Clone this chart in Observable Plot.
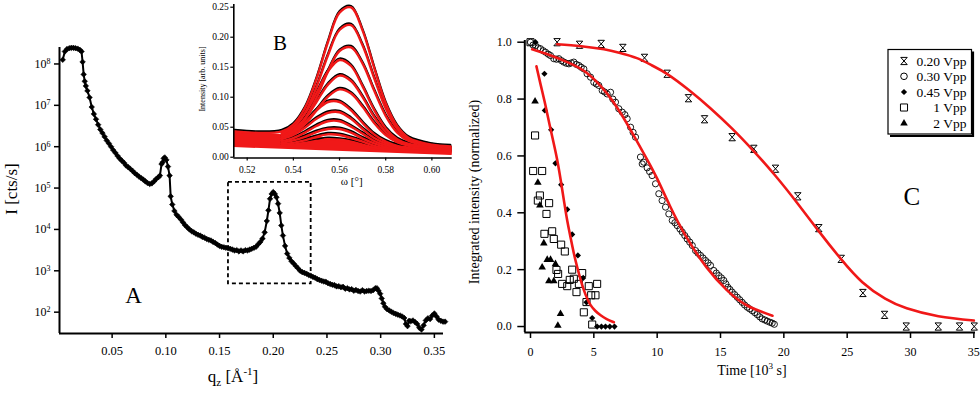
<!DOCTYPE html>
<html><head><meta charset="utf-8">
<script src="https://cdn.jsdelivr.net/npm/d3@7"></script>
<script src="https://cdn.jsdelivr.net/npm/@observablehq/plot@0.6"></script>
<style>
body{margin:0;background:#fff}
#wrap{position:relative;width:980px;height:394px;overflow:hidden;background:#fff}
#wrap svg{position:absolute}
</style></head><body><div id="wrap"></div>
<script>
const FONT = '"Liberation Serif", "Times New Roman", serif';
const RED = "#f01818";

// ---------- Panel A: reflectivity curve ----------
const qA = [0.004,0.006,0.008,0.010,0.012,0.014,0.016,0.018,0.020,0.0215,0.0225,0.0235,0.0245,0.0255,0.027,0.029,0.031,0.033,0.035,0.037,0.039,0.041,0.043,0.045,0.047,0.049,0.051,0.053,0.055,0.057,0.059,0.061,0.063,0.065,0.067,0.069,0.071,0.073,0.075,0.077,0.079,0.081,0.083,0.085,0.087,0.089,0.091,0.093,0.0945,0.096,0.097,0.098,0.099,0.1005,0.102,0.1035,0.1045,0.106,0.108,0.110,0.112,0.114,0.116,0.118,0.120,0.122,0.124,0.126,0.128,0.130,0.132,0.134,0.136,0.138,0.140,0.142,0.144,0.146,0.148,0.150,0.152,0.154,0.156,0.158,0.160,0.162,0.164,0.166,0.168,0.170,0.172,0.174,0.176,0.178,0.180,0.182,0.184,0.186,0.188,0.190,0.192,0.194,0.1955,0.197,0.1985,0.200,0.2015,0.203,0.2045,0.206,0.2075,0.209,0.211,0.213,0.215,0.217,0.219,0.221,0.223,0.225,0.227,0.229,0.231,0.233,0.235,0.237,0.239,0.241,0.243,0.245,0.247,0.249,0.251,0.253,0.255,0.257,0.259,0.261,0.263,0.265,0.267,0.269,0.271,0.273,0.275,0.277,0.279,0.281,0.283,0.285,0.287,0.289,0.291,0.293,0.295,0.2965,0.298,0.2995,0.301,0.3025,0.304,0.306,0.308,0.310,0.312,0.314,0.316,0.318,0.320,0.322,0.3235,0.325,0.3265,0.328,0.330,0.332,0.334,0.336,0.338,0.340,0.342,0.344,0.346,0.348,0.350,0.352,0.354,0.356,0.358,0.360];
const IA = [1.26e8,2.0e8,2.29e8,2.4e8,2.45e8,2.45e8,2.4e8,2.34e8,2.19e8,2.0e8,1.12e8,5.6e7,3.8e7,2.95e7,2.24e7,1.55e7,9.1e6,6.2e6,4.6e6,3.4e6,2.6e6,2.14e6,1.74e6,1.41e6,1.2e6,1.0e6,8.3e5,7.1e5,6.0e5,5.2e5,4.6e5,4.1e5,3.5e5,3.2e5,2.9e5,2.6e5,2.3e5,2.1e5,1.9e5,1.74e5,1.6e5,1.45e5,1.32e5,1.26e5,1.3e5,1.45e5,1.66e5,1.82e5,2.0e5,3.8e5,4.2e5,5.2e5,5.5e5,4.8e5,3.3e5,2.0e5,6.3e4,4.0e4,2.8e4,2.25e4,2.0e4,1.74e4,1.48e4,1.26e4,1.12e4,1.0e4,9.1e3,8.5e3,7.9e3,7.4e3,7.1e3,6.6e3,6.3e3,5.9e3,5.6e3,5.4e3,5.0e3,4.7e3,4.3e3,4.0e3,3.8e3,3.7e3,3.6e3,3.5e3,3.4e3,3.25e3,3.1e3,3.15e3,2.95e3,3.1e3,2.95e3,3.15e3,3.1e3,3.25e3,3.4e3,3.6e3,3.8e3,4.4e3,5.0e3,6.0e3,8.5e3,1.6e4,2.9e4,5.5e4,7.2e4,8.0e4,7.2e4,6.0e4,4.2e4,2.5e4,1.25e4,7.1e3,4.0e3,2.6e3,2.05e3,1.7e3,1.5e3,1.3e3,1.15e3,1.0e3,930,890,850,790,760,710,680,630,600,575,550,540,500,480,460,450,420,425,400,410,370,380,355,360,330,345,325,315,340,315,325,330,325,340,380,380,330,280,215,165,135,118,110,102,95,91,87,83,79,72,52,46,62,60,63,58,52,42,38,48,63,71,68,83,93,79,66,62,59,59];
const qTicksA = [0.05,0.10,0.15,0.20,0.25,0.30,0.35];
const ITicksA = [1e2,1e3,1e4,1e5,1e6,1e7,1e8];
const boxA = {q1: 0.1583, q2: 0.2353, I1: 485, I2: 1.38e5};
const labelA = {q: 0.070, I: 251, text: "A"};

// ---------- Panel B (inset): rocking curves and fits ----------
const omegaB = [0.5145,0.525,0.535,0.54,0.545,0.55,0.555,0.56,0.565,0.57,0.575,0.58,0.585,0.59,0.60,0.608];
const curvesB = [
  [.043,.0406,.0432,.0545,.082,.1306,.192,.241,.2496,.211,.149,.090,.0515,.032,.0207,.018],
  [null,null,.041,.050,.074,.117,.170,.212,.220,.186,.132,.081,.047,.030,.020,.017],
  [null,null,.038,.046,.065,.099,.143,.177,.183,.156,.111,.069,.041,.027,.018,.016],
  [null,null,.039,.050,.073,.107,.143,.162,.152,.118,.079,.048,.030,.022,.017,.015],
  [null,null,.036,.044,.063,.092,.121,.136,.127,.100,.067,.042,.027,.021,.016,.014],
  [null,null,.033,.040,.055,.078,.101,.113,.106,.084,.057,.037,.025,.019,.015,.013],
  [null,null,.033,.042,.058,.078,.092,.092,.078,.057,.038,.026,.019,.016,.014,.012],
  [null,null,.030,.037,.049,.064,.074,.075,.064,.047,.032,.023,.017,.015,.013,.011],
  [null,null,.027,.032,.041,.052,.060,.060,.051,.039,.027,.020,.016,.014,.012,.010],
  [null,null,.024,.028,.034,.042,.047,.047,.041,.031,.023,.017,.014,.012,.010,.009],
  [null,null,.022,.024,.028,.034,.038,.037,.032,.026,.019,.015,.013,.011,.009,.008],
  [null,null,.019,.021,.024,.027,.030,.029,.026,.021,.016,.013,.011,.010,.008,.007]
];
const bandOmegaB = [0.5142, 0.6088];
const bandLoB = [0.016, 0.003];
const bandHiB = [0.043, 0.018];
const omegaTicksB = [0.52,0.54,0.56,0.58,0.60];
const intTicksB = [0,0.05,0.10,0.15,0.20,0.25];
const labelB = {w: 0.5342, v: 0.1895, text: "B"};

// ---------- Panel C: integrated intensity vs time ----------
const t020 = [2.1,3.87,5.58,7.29,9.0,10.79,12.47,13.74,15.92,17.63,19.34,21.1,22.76,24.53,26.24,27.95,29.66,32.19,33.87,35.03];
const y020 = [1.0,.991,.994,.980,.945,.889,.803,.729,.666,.625,.555,.458,.346,.238,.118,.041,0,0,0,0];
const t030 = [0,0.2,0.39,0.6,0.79,1.0,1.18,1.4,1.58,1.84,2.05,2.24,2.45,2.63,2.83,3.03,3.22,3.42,3.62,3.82,4.0,4.21,4.47,4.74,5.0,5.2,5.39,5.66,5.85,6.05,6.32,6.5,6.71,6.97,7.24,7.45,7.63,7.9,8.1,8.29,8.68,8.82,8.94,9.21,9.4,9.6,9.87,10.13,10.39,10.66,10.92,11.19,11.4,11.58,11.8,11.98,12.18,12.37,12.57,12.77,13.03,13.22,13.42,13.62,13.82,14.02,14.21,14.47,14.67,14.87,15.07,15.26,15.42,15.58,15.75,15.92,16.12,16.32,16.52,16.71,16.9,17.11,17.3,17.5,17.7,17.9,18.1,18.29,18.5,18.69,18.9,19.08,19.25];
const y030 = [1.0,.99,.988,.98,.977,.97,.965,.958,.953,.942,.94,.942,.935,.930,.926,.924,.927,.930,.922,.918,.912,.906,.889,.877,.859,.853,.848,.830,.825,.818,.824,.80,.789,.766,.754,.745,.731,.701,.683,.666,.596,.572,.578,.558,.545,.531,.502,.467,.443,.42,.396,.373,.365,.355,.343,.332,.32,.308,.297,.285,.267,.258,.25,.241,.232,.224,.215,.197,.188,.179,.171,.162,.150,.138,.130,.121,.112,.103,.094,.085,.076,.068,.062,.056,.049,.042,.034,.027,.023,.019,.015,.012,.008];
const t045 = [0.39,1.1,1.13,1.63,1.97,2.42,2.9,3.29,3.74,4.16,4.42,4.87,5.26,5.6,5.92,6.26,6.63];
const y045 = [1.0,.889,.760,.692,.574,.499,.412,.324,.250,.171,.085,.030,0,0,0,0,0];
const t1 = [0,0.36,0.21,0.92,0.74,0.58,1.47,1.26,1.1,1.71,1.84,2.42,2.71,2.05,2.18,3.29,3.42,3.10,2.5,2.9,3.82,4.08,3.63,4.6,5.26,4.79,5.13,4.42,4.21,4.87];
const y1 = [1.0,.672,.547,.547,.461,.443,.434,.396,.326,.335,.308,.288,.264,.199,.185,.200,.168,.164,.150,.142,.150,.188,.121,.142,.150,.110,.110,.086,.050,.007];
const t2 = [0.36,0.58,0.74,1.05,0.92,1.32,1.58,1.97,1.45,1.84,2.37,2.16];
const y2 = [.792,.506,.426,.293,.208,.235,.235,.220,.160,.160,.045,.003];
const fit020T = [2.1,4,5.8,7,8.4,9.6,10.8,12.5,14.2,15.9,17.6,19.3,21.1,22.8,24.5,26.2,28,29.7,32.2,35];
const fit020Y = [.993,.986,.975,.963,.944,.918,.888,.832,.768,.697,.618,.532,.432,.333,.238,.156,.098,.064,.036,.021];
const fit030T = [0.13,1.5,3,4.5,6,7.1,8.2,9.2,10,11,12.3,13.9,15.5,17.1,19.1];
const fit030Y = [.975,.955,.928,.89,.822,.752,.668,.588,.52,.425,.315,.208,.128,.074,.038];
const fit045T = [0.47,0.8,1.18,1.5,1.84,2.1,2.37,2.68,2.9,3.16,3.4,3.68,3.95,4.21,4.5,4.74,5.1,5.53,6.0,6.58];
const fit045Y = [.915,.85,.78,.71,.643,.59,.52,.431,.37,.314,.26,.209,.165,.127,.095,.074,.055,.039,.026,.015];
const tTicksC = [0,5,10,15,20,25,30,35];
const yTicksC = [0,0.2,0.4,0.6,0.8,1.0];
const legendNames = ["0.20 Vpp","0.30 Vpp","0.45 Vpp","1 Vpp","2 Vpp"];
const labelC = {t: 30.1, y: 0.455, text: "C"};

// hourglass symbol
const hourglass = {draw(ctx, size){ const r = Math.sqrt(size/Math.PI); const w = r*0.9, h = r;
  ctx.moveTo(-w,-h); ctx.lineTo(w,-h); ctx.lineTo(-w,h); ctx.lineTo(w,h); ctx.closePath(); }};

const wrap = document.getElementById("wrap");
function place(svg, left, top){ svg.style.left = left+"px"; svg.style.top = top+"px"; wrap.appendChild(svg); }
function baseStyle(fs){ return {fontFamily: FONT, fontSize: fs, background: "transparent", overflow: "visible", color: "black"}; }

// ===== Panel A =====
const dataA = qA.map((q,i)=>({q, I: IA[i]}));
const xDomA = [0.001, 0.3585], yDomA = [30.5, 2.5e8];
const svgA = Plot.plot({
  width: 460, height: 394, marginLeft: 59, marginRight: 17, marginTop: 47, marginBottom: 61,
  x: {domain: xDomA}, y: {type: "log", domain: yDomA},
  style: baseStyle("12.5px"),
  marks: [
    Plot.axisX({ticks: qTicksA, tickFormat: d3.format(".2f"), tickSize: 5, tickPadding: 8, strokeWidth: 1.5, label: null}),
    Plot.axisY({ticks: ITicksA, tickFormat: d => String(Math.round(Math.log10(d))), tickSize: 5, tickPadding: 4, strokeWidth: 1.5, fontSize: 12, label: null}),
    Plot.ruleX([xDomA[0]], {strokeWidth: 2}),
    Plot.ruleY([yDomA[0]], {strokeWidth: 2}),
    Plot.rect([boxA], {x1: "q1", x2: "q2", y1: "I1", y2: "I2", fill: "none", stroke: "black", strokeWidth: 1.8, strokeDasharray: "4,3"}),
    Plot.line(dataA, {x: "q", y: "I", stroke: "black", strokeWidth: 2}),
    Plot.dot(dataA, {x: "q", y: "I", symbol: "diamond2", r: 2.5, fill: "black", stroke: "black", strokeWidth: 0.6}),
    Plot.text([labelA], {x: "q", y: "I", text: "text", fontSize: 23})
  ]
});
d3.select(svgA).selectAll('g[aria-label="y-axis tick label"] text').each(function(){
  const t = d3.select(this); const e = t.text(); t.text(null);
  t.append("tspan").text("10"); t.append("tspan").attr("dy","-0.5em").attr("font-size","8px").text(e);
});
{
  const s = d3.select(svgA);
  s.append("text").attr("transform","translate(17,189) rotate(-90)").attr("text-anchor","middle")
    .attr("font-family",FONT).attr("font-size","17px").text("I [cts/s]");
  const t = s.append("text").attr("x",233).attr("y",382).attr("text-anchor","middle").attr("font-family",FONT).attr("font-size","17px");
  t.append("tspan").text("q");
  t.append("tspan").attr("dy","4").attr("font-size","11px").text("z");
  t.append("tspan").attr("dy","-4").text(" [Å");
  t.append("tspan").attr("dy","-7").attr("font-size","11px").text("-1");
  t.append("tspan").attr("dy","7").text("]");
}
place(svgA, 0, 0);

// ===== Panel B (inset) =====
const dataB = [];
curvesB.forEach((arr,k)=>arr.forEach((v,i)=>{ if (v != null) dataB.push({w: omegaB[i], v, k}); }));
const bandB = bandOmegaB.map((w,i)=>({w, lo: bandLoB[i], hi: bandHiB[i]}));
const xDomB = [0.5142, 0.6088], yDomB = [-0.0013, 0.2545];
const svgB = Plot.plot({
  width: 280, height: 190, marginLeft: 53.3, marginRight: 8.3, marginTop: 4, marginBottom: 32.5,
  x: {domain: xDomB}, y: {domain: yDomB},
  style: baseStyle("9.5px"),
  marks: [
    Plot.areaY(bandB, {x: "w", y1: "lo", y2: "hi", fill: RED}),
    Plot.line(dataB, {x: "w", y: "v", z: "k", stroke: "black", strokeWidth: 2, dy: -1.6, curve: "catmull-rom"}),
    Plot.line(dataB, {x: "w", y: "v", z: "k", stroke: RED, strokeWidth: 2.4, curve: "catmull-rom"}),
    Plot.axisX({ticks: omegaTicksB, tickFormat: d3.format(".2f"), tickSize: 3, tickPadding: 5, strokeWidth: 1.2, label: null}),
    Plot.axisY({ticks: intTicksB, tickFormat: d3.format(".2f"), tickSize: 3, tickPadding: 2, strokeWidth: 1.2, label: null}),
    Plot.ruleX([xDomB[0]], {strokeWidth: 1.6}),
    Plot.ruleY([yDomB[0]], {strokeWidth: 1.6}),
    Plot.text([labelB], {x: "w", y: "v", text: "text", fontSize: 21})
  ]
});
{
  const s = d3.select(svgB);
  s.append("text").attr("transform","translate(24.5,79) rotate(-90)").attr("text-anchor","middle")
    .attr("font-family",FONT).attr("font-size","8px").text("Intensity [arb. units]");
  s.append("text").attr("x",171.7).attr("y",185).attr("text-anchor","middle").attr("font-family",FONT).attr("font-size","11px").text("ω [°]");
}
place(svgB, 180, 0);

// ===== Panel C =====
const pts = (T,Y)=>T.map((t,i)=>({t, y: Y[i]}));
const xDomC = [-0.45, 35.13], yDomC = [-0.021, 1.006];
const svgC = Plot.plot({
  width: 520, height: 394, marginLeft: 64.3, marginRight: 5, marginTop: 40, marginBottom: 62,
  x: {domain: xDomC}, y: {domain: yDomC},
  style: baseStyle("12px"),
  marks: [
    Plot.axisX({ticks: tTicksC, tickFormat: d => String(d), tickSize: 6, tickPadding: 9, strokeWidth: 1.5, label: null}),
    Plot.axisY({ticks: yTicksC, tickFormat: d3.format(".1f"), tickSize: 7, tickPadding: 6, strokeWidth: 1.5, label: null}),
    Plot.ruleX([xDomC[0]], {strokeWidth: 2}),
    Plot.ruleY([yDomC[0]], {strokeWidth: 2}),
    Plot.dot(pts(t1,y1), {x: "t", y: "y", symbol: "square", r: 4.0, stroke: "black", strokeWidth: 1, fill: "none"}),
    Plot.dot(pts(t2,y2), {x: "t", y: "y", symbol: "triangle", r: 2.8, fill: "black", stroke: "none"}),
    Plot.dot(pts(t045,y045), {x: "t", y: "y", symbol: "diamond2", r: 2.8, fill: "black", stroke: "none"}),
    Plot.dot(pts(t030,y030), {x: "t", y: "y", symbol: "circle", r: 3.1, stroke: "black", strokeWidth: 0.9, fill: "none"}),
    Plot.dot(pts(t020,y020), {x: "t", y: "y", symbol: hourglass, r: 3.6, stroke: "black", strokeWidth: 1, fill: "none"}),
    Plot.line(pts(fit020T,fit020Y), {x: "t", y: "y", stroke: RED, strokeWidth: 2.6, curve: "natural"}),
    Plot.line(pts(fit030T,fit030Y), {x: "t", y: "y", stroke: RED, strokeWidth: 2.6, curve: "natural"}),
    Plot.line(pts(fit045T,fit045Y), {x: "t", y: "y", stroke: RED, strokeWidth: 2.6, curve: "basis"}),
    Plot.text([labelC], {x: "t", y: "y", text: "text", fontSize: 25})
  ]
});
{
  const s = d3.select(svgC);
  s.append("text").attr("transform","translate(19,192) rotate(-90)").attr("text-anchor","middle")
    .attr("font-family",FONT).attr("font-size","14px").text("Integrated intensity (normalized)");
  const t = s.append("text").attr("x",292).attr("y",375).attr("text-anchor","middle").attr("font-family",FONT).attr("font-size","14px");
  t.append("tspan").text("Time [10");
  t.append("tspan").attr("dy","-6").attr("font-size","9px").text("3");
  t.append("tspan").attr("dy","6").text(" s]");
  // legend
  const g = s.append("g");
  g.append("rect").attr("x",428).attr("y",49.5).attr("width",83.5).attr("height",84.5).attr("fill","white").attr("stroke","black").attr("stroke-width",1.2);
  g.append("path").attr("d","M513,51.5V136H430").attr("fill","none").attr("stroke","black").attr("stroke-width",2.2);
  const syms = [
    {type: hourglass, size: Math.PI*3.6*3.6, fill: "none"},
    {type: d3.symbolCircle, size: Math.PI*3.3*3.3, fill: "none"},
    {type: d3.symbolDiamond2, size: Math.PI*2.8*2.8, fill: "black"},
    {type: d3.symbolSquare, size: Math.PI*4*4, fill: "none"},
    {type: d3.symbolTriangle, size: Math.PI*2.8*2.8, fill: "black"}
  ];
  const rows = [61, 76.3, 92, 107.5, 123.3];
  legendNames.forEach((name,i)=>{
    const sy = syms[i];
    g.append("path").attr("transform",`translate(444,${rows[i]})`).attr("d", d3.symbol(sy.type, sy.size)())
      .attr("fill", sy.fill).attr("stroke", sy.fill === "black" ? "none" : "black").attr("stroke-width",1);
    g.append("text").attr("x",506.5).attr("y",rows[i]).attr("dy","0.35em").attr("text-anchor","end")
      .attr("font-family",FONT).attr("font-size","13.5px").text(name);
  });
}
place(svgC, 460, 0);
</script></body></html>
